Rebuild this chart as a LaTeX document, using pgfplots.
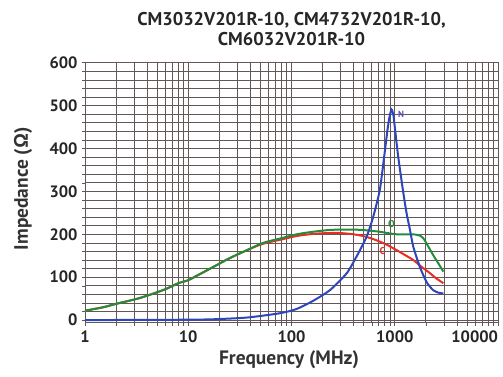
\documentclass[border=0pt]{standalone}
\usepackage{fontspec}
\setmainfont{PT Sans}
\usepackage{pgfplots}
\pgfplotsset{compat=1.18}
\definecolor{gridc}{RGB}{100,86,86}
\definecolor{cgreen}{RGB}{35,140,60}
\definecolor{cred}{RGB}{232,45,35}
\definecolor{cblue}{RGB}{45,70,185}
\definecolor{cpurple}{RGB}{95,75,175}
\begin{document}
\begin{tikzpicture}
\useasboundingbox (-85bp,-54.3bp) rectangle (418bp,322.7bp);
\begin{axis}[
  at={(0,0)}, anchor=south west,
  scale only axis, width=413bp, height=260bp,
  xmode=log, xmin=1, xmax=10000, ymin=-6, ymax=600,
  xtick={1,10,100,1000,10000},
  xticklabels={1,10,100,1000,\makebox[0pt][r]{10000}},
  ytick={0,100,...,600},
  minor ytick={20,40,...,580},
  grid=both,
  major grid style={color=gridc, line width=0.7bp},
  minor grid style={color=gridc, line width=0.7bp},
  axis line style={color=gridc, line width=0.7bp},
  tick style={color=gridc, line width=0.6bp},
  tick align=outside, tick pos=left,
  major tick length=3bp, minor tick length=3bp,
  /pgf/number format/assume math mode=true,
  tick label style={font=\bfseries\fontsize{16.5}{16.5}\selectfont, text=black!85},
  yticklabel style={xshift=-1bp},
  xticklabel style={yshift=-2bp},
  clip=false,
]
\addplot[cred, line width=2bp, smooth, tension=0.5] coordinates {
(1,22) (1.5,30) (2,38) (3,48) (4,57) (6,72) (8,86) (10,93) (12,103) (17.5,124)
(25,144) (37,163) (53,178) (77,187) (112,196) (162,201) (230,203) (295,203)
(400,200) (494,196) (600,190) (716,183) (850,175) (1045,163) (1250,152)
(1513,140) (1800,125) (2180,110) (2500,98) (2960,86)
};
\addplot[cgreen, line width=2bp, smooth, tension=0.5] coordinates {
(1,22) (1.5,30) (2,38) (3,48) (4,57) (6,72) (8,86) (10,93) (12,103) (17.5,124)
(25,144) (37,163) (53,180) (77,190) (112,200) (162,206) (230,210) (295,211)
(400,211) (494,210) (600,208) (716,206) (850,203) (1045,200) (1300,200)
(1513,200) (1750,197) (1900,190) (2030,179) (2350,152) (2650,132) (2960,113)
};
\addplot[cblue, line width=2bp, smooth, tension=0.4] coordinates {
(1,0) (3,0.5) (10,1) (17.5,2) (37,6) (77,16) (112,26) (162,45) (236,70)
(342,109) (426,148) (533,194) (619,241) (716,303) (790,381) (850,443)
(890,474) (930,491) (970,478) (1000,451) (1080,381) (1200,303) (1300,250)
(1400,212) (1513,171) (1750,124) (2030,89) (2350,70) (2650,64) (2960,62)
};
\node[font=\bfseries\fontsize{9}{9}\selectfont, text=cpurple] at (axis cs:1150,480) {N};
\node[font=\bfseries\fontsize{10}{10}\selectfont, text=cgreen] at (axis cs:930,224) {O};
\node[font=\bfseries\fontsize{10}{10}\selectfont, text=cred] at (axis cs:760,160) {C};
\end{axis}
\node[font=\bfseries\fontsize{18.5}{20}\selectfont, align=center, text=black!85] at (206.5bp,294bp) {CM3032V201R-10, CM4732V201R-10,\\CM6032V201R-10};
\node[font=\bfseries\fontsize{19.5}{19.5}\selectfont, text=black!80] at (204bp,-37.3bp) {Frequency (MHz)};
\node[font=\bfseries\fontsize{19.5}{19.5}\selectfont, text=black!80, rotate=90] at (-62bp,134bp) {Impedance (Ω)};
\end{tikzpicture}
\end{document}
